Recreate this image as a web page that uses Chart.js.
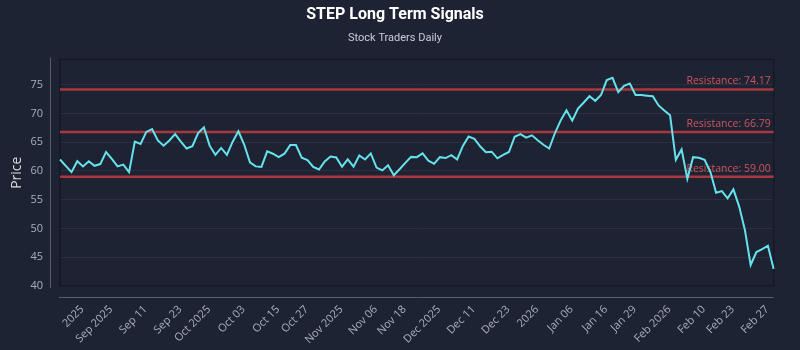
<!DOCTYPE html>
<html>
<head>
<meta charset="utf-8">
<title>STEP Long Term Signals</title>
<script src="https://cdn.jsdelivr.net/npm/chart.js@4.4.1/dist/chart.umd.min.js"></script>
<style>
  html, body { margin: 0; padding: 0; background: #1e2333; }
  #wrap { width: 800px; height: 350px; }
</style>
</head>
<body>
<div id="wrap"><canvas id="signals" width="800" height="350"></canvas></div>
<script>
// daily closes, late Aug 2025 .. Feb 27 2026
const prices = [
  62.0, 60.9, 59.8, 61.7, 60.8, 61.7, 60.9, 61.2, 63.3, 62.1,
  60.8, 61.1, 59.8, 65.1, 64.7, 66.8, 67.3, 65.3, 64.4, 65.3,
  66.4, 65.1, 63.9, 64.3, 66.6, 67.6, 64.4, 62.8, 64.0, 62.8,
  65.1, 66.9, 64.6, 61.5, 60.8, 60.7, 63.4, 63.0, 62.4, 63.0,
  64.5, 64.5, 62.3, 61.9, 60.7, 60.25, 61.65, 62.5, 62.35, 60.75,
  62.0, 60.75, 62.7, 62.0, 63.05, 60.6, 60.1, 61.0, 59.25, 60.3,
  61.4, 62.45, 62.4, 63.05, 61.8, 61.25, 62.4, 62.25, 62.75, 62.0,
  64.35, 66.0, 65.6, 64.3, 63.25, 63.35, 62.2, 62.8, 63.3, 65.95,
  66.4, 65.8, 66.2, 65.35, 64.55, 63.9, 66.6, 68.8, 70.55, 68.75,
  70.85, 71.9, 73.0, 72.2, 73.2, 75.8, 76.2, 73.7, 74.8, 75.2,
  73.2, 73.2, 73.1, 73.0, 71.4, 70.5, 69.7, 61.95, 63.75, 58.65,
  62.4, 62.3, 61.95, 59.85, 56.2, 56.5, 55.25, 56.8, 53.85, 49.75,
  43.65, 45.9, 46.4, 47.0, 42.95
];

// one category per close, only some carry a visible date
const dayLabels = [
  '', '', '', '2025', '', '', '', '', 'Sep 2025', '',
  '', '', '', '', 'Sep 11', '', '', '', '', '',
  'Sep 23', '', '', '', '', 'Oct 2025', '', '', '', '',
  '', 'Oct 03', '', '', '', '', '', 'Oct 15', '', '',
  '', '', 'Oct 27', '', '', '', '', '', 'Nov 2025', '',
  '', '', '', '', 'Nov 06', '', '', '', '', 'Nov 18',
  '', '', '', '', '', 'Dec 2025', '', '', '', '',
  '', 'Dec 11', '', '', '', '', '', 'Dec 23', '', '',
  '', '', '2026', '', '', '', '', '', 'Jan 06', '',
  '', '', '', '', 'Jan 16', '', '', '', '', 'Jan 29',
  '', '', '', '', '', 'Feb 2026', '', '', '', '',
  '', 'Feb 10', '', '', '', '', 'Feb 23', '', '', '',
  '', '', 'Feb 27', '', ''
];

const resistanceLevels = [74.17, 66.79, 59.00];
const yTicks = [40, 45, 50, 55, 60, 65, 70, 75];

const LINE_COLOR = '#66e2ec';
const LEVEL_COLOR = '#a9383d';
const LEVEL_TEXT = '#d0545a';

// horizontal resistance levels + labels, under the price line
const levelsPlugin = {
  id: 'levels',
  beforeDatasetsDraw(chart) {
    const { ctx, chartArea: a, scales: { y } } = chart;
    ctx.save();
    // plot frame
    ctx.strokeStyle = '#141824';
    ctx.lineWidth = 1.5;
    ctx.strokeRect(a.left, a.top, a.right - a.left, a.bottom - a.top);
    resistanceLevels.forEach(level => {
      const py = y.getPixelForValue(level);
      ctx.strokeStyle = LEVEL_COLOR;
      ctx.lineWidth = 2.5;
      ctx.beginPath();
      ctx.moveTo(a.left, py);
      ctx.lineTo(a.right, py);
      ctx.stroke();
      ctx.fillStyle = LEVEL_TEXT;
      ctx.font = '10.5px "Open Sans", sans-serif';
      ctx.textAlign = 'right';
      ctx.textBaseline = 'middle';
      ctx.fillText('Resistance: ' + level.toFixed(2), a.right - 3, py - 8);
    });
    ctx.restore();
  },
  afterDraw(chart) {
    // detached axis lines
    const { ctx, chartArea: a } = chart;
    ctx.save();
    ctx.strokeStyle = '#575e6d';
    ctx.lineWidth = 1;
    ctx.beginPath();
    ctx.moveTo(a.left - 9.5, a.top - 2);
    ctx.lineTo(a.left - 9.5, a.bottom + 2);
    ctx.moveTo(a.left - 1, a.bottom + 11.5);
    ctx.lineTo(a.right, a.bottom + 11.5);
    ctx.stroke();
    ctx.restore();
  }
};

new Chart(document.getElementById('signals'), {
  type: 'line',
  data: {
    labels: dayLabels,
    datasets: [{
      label: 'STEP',
      data: prices,
      borderColor: LINE_COLOR,
      borderWidth: 2,
      pointRadius: 0,
      tension: 0,
      fill: false
    }]
  },
  options: {
    responsive: false,
    animation: false,
    devicePixelRatio: 1,
    layout: { padding: { left: 0, right: 10, top: 0, bottom: 0 } },
    plugins: {
      legend: { display: false },
      tooltip: { enabled: false },
      title: {
        display: true,
        text: 'STEP Long Term Signals',
        color: '#ffffff',
        font: { family: '"Liberation Sans Narrow", Roboto, sans-serif', size: 16, weight: 'bold' },
        padding: { top: 5, bottom: 4 }
      },
      subtitle: {
        display: true,
        text: 'Stock Traders Daily',
        color: '#c9cdd6',
        font: { family: '"Liberation Sans Narrow", Roboto, sans-serif', size: 11 },
        padding: { top: 3, bottom: 15 }
      }
    },
    scales: {
      x: {
        grid: { display: false, drawTicks: false },
        border: { display: false },
        ticks: {
          autoSkip: false,
          minRotation: 45,
          maxRotation: 45,
          padding: 17,
          labelOffset: 5,
          color: '#a9afba',
          font: { family: '"Open Sans", sans-serif', size: 11 }
        },
        afterFit(scale) { scale.height = 64; }
      },
      y: {
        min: 40,
        max: 79.4,
        grid: { color: 'rgba(255,255,255,0.06)', drawTicks: false },
        border: { display: false },
        afterBuildTicks(scale) { scale.ticks = yTicks.map(v => ({ value: v })); },
        ticks: {
          padding: 17,
          color: '#a9afba',
          font: { family: '"Open Sans", sans-serif', size: 11 }
        },
        title: {
          display: true,
          text: 'Price',
          color: '#d6d9df',
          font: { family: '"Open Sans", sans-serif', size: 14 },
          padding: { top: 9, bottom: 0 }
        },
        afterFit(scale) { scale.width = 60; }
      }
    }
  },
  plugins: [levelsPlugin]
});
</script>
</body>
</html>
